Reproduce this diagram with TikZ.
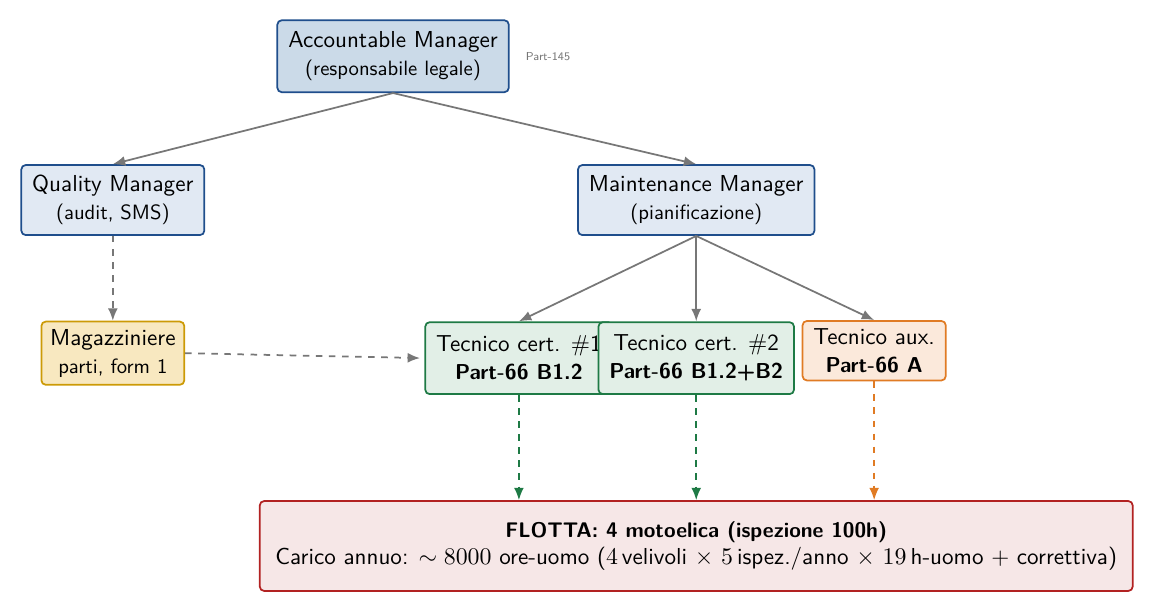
\documentclass[tikz,border=0pt]{standalone}
\usepackage{tikz}
\usetikzlibrary{positioning,arrows.meta,calc}
\usepackage{amsmath,amssymb}
\usepackage{xcolor}
\definecolor{mgrblue}{HTML}{1F4E8C}
\definecolor{mgrfill}{HTML}{CBDAE8}
\definecolor{subfill}{HTML}{E1E9F3}
\definecolor{storegold}{HTML}{CC9A06}
\definecolor{storefill}{HTML}{F8E8C0}
\definecolor{certgreen}{HTML}{1E7A45}
\definecolor{certfill}{HTML}{E2EFE7}
\definecolor{auxorange}{HTML}{E07B24}
\definecolor{auxfill}{HTML}{FBE9DB}
\definecolor{fleetred}{HTML}{B22222}
\definecolor{fleetfill}{HTML}{F6E7E7}
\definecolor{linkgray}{HTML}{777777}
\newcommand{\subline}{\fontsize{9.5}{11.6}\selectfont}
\newcommand{\boldline}{\fontsize{9.9}{12}\selectfont\bfseries}

\begin{document}
\begin{tikzpicture}[
  font=\sffamily\fontsize{10.6}{12.8}\selectfont,
  box/.style={draw, rounded corners=2pt, thick, align=center,
              inner xsep=5pt, inner ysep=3.5pt},
  mgrbox/.style={box, draw=mgrblue, fill=subfill, minimum height=1.13cm},
  certbox/.style={box, draw=certgreen, fill=certfill, minimum height=1.16cm,
                  minimum width=2.94cm},
  arr/.style={-{Latex[length=2mm,width=1.6mm]}, thick, linkgray},
  darr/.style={arr, dashed}
]
  \useasboundingbox (0,0) rectangle (18.63,9.887);

  % direzione
  \node[mgrbox, fill=mgrfill, minimum height=1.16cm] (acc) at (6.34, 8.98)
    {Accountable Manager\\{\subline (responsabile legale)}};
  \node[font=\sffamily\fontsize{5.3}{6}\selectfont, linkgray] (part145) at (8.84, 8.98) {Part-145};

  \node[mgrbox] (qual) at (1.82, 6.66) {Quality Manager\\{\subline (audit, SMS)}};
  \node[mgrbox] (maint) at (11.23, 6.66)
    {Maintenance Manager\\{\subline (pianificazione)}};

  % personale
  \node[box, draw=storegold, fill=storefill, inner xsep=4pt, minimum height=1.0cm]
    (mag) at (1.82, 4.19) {Magazziniere\\{\subline parti, form 1}};
  \node[certbox] (cert1) at (8.37, 4.11) {Tecnico cert. \#1\\{\boldline Part-66 B1.2}};
  \node[certbox] (cert2) at (11.23, 4.11) {Tecnico cert. \#2\\{\boldline Part-66 B1.2+B2}};
  \node[box, draw=auxorange, fill=auxfill, minimum height=0.95cm] (aux) at (14.10, 4.23)
    {Tecnico aux.\\{\boldline Part-66 A}};

  % flotta
  \node[box, draw=fleetred, fill=fleetfill, minimum width=14.08cm, minimum height=1.45cm]
    (fleet) at (11.23, 1.08)
    {{\fontsize{9.7}{12}\selectfont\bfseries FLOTTA: 4 motoelica (ispezione 100h)}\\
     Carico annuo: $\sim 8000$ ore-uomo ($4\,$velivoli $\times$ $5\,$ispez./anno
     $\times$ $19\,$h-uomo + correttiva)};

  \draw[arr] (acc.south) -- (qual.north);
  \draw[arr] (acc.south) -- (maint.north);
  \draw[arr] (maint.south) -- (cert1.north);
  \draw[arr] (maint.south) -- (cert2.north);
  \draw[arr] (maint.south) -- (aux.north);
  \draw[darr] (qual.south) -- (mag.north);
  \draw[darr, shorten >=2pt] (mag.east) -- (cert1.west);

  \draw[darr, certgreen] (cert1.south) -- (cert1.south |- fleet.north);
  \draw[darr, certgreen] (cert2.south) -- (cert2.south |- fleet.north);
  \draw[darr, auxorange] (aux.south) -- (aux.south |- fleet.north);
\end{tikzpicture}
\end{document}
